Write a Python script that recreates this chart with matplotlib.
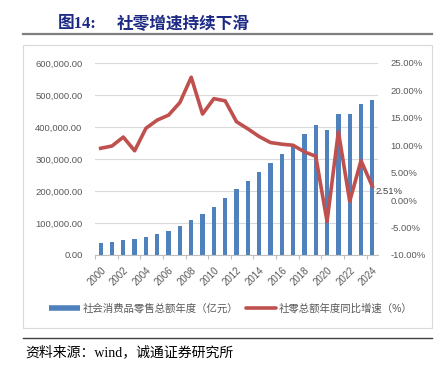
import numpy as np
import matplotlib
matplotlib.use('Agg')
import matplotlib.pyplot as plt
from matplotlib.lines import Line2D
from matplotlib.patches import Rectangle
from matplotlib.ticker import FuncFormatter

plt.rcParams['font.family'] = ['Liberation Sans', 'Noto Sans CJK SC', 'DejaVu Sans']

years = list(range(2000, 2025))
retail_sales = [38500, 41600, 46900, 51000, 57300, 65600, 76000, 90600, 110400, 127000,
                151000, 178100, 205200, 231200, 258300, 286400, 315600, 346800, 377000,
                406000, 391000, 440800, 439700, 471000, 484000]
yoy_growth = [9.45, 9.87, 11.5, 9.0, 13.1, 14.6, 15.5, 17.8, 22.4, 15.7,
              18.5, 18.1, 14.3, 13.0, 11.6, 10.5, 10.2, 10.0, 8.8, 8.0,
              -3.9, 12.5, -0.2, 7.2, 2.51]
bar_label = '社会消费品零售总额年度（亿元）'
line_label = '社零总额年度同比增速（%）'
title_no = '图14:'
title_txt = '社零增速持续下滑'
source = '资料来源：wind，诚通证券研究所'

BLUE, RED, GRAY = '#4F81BD', '#C0504D', '#595959'

fig = plt.figure(figsize=(4.44, 3.73), dpi=100)
W, H = 444, 373

# frame, rules and header text
fig.add_artist(Rectangle((23 / W, 1 - 328 / H), 409 / W, 283 / H, transform=fig.transFigure,
                         fill=False, ec='#d9d9d9', lw=0.8))
fig.add_artist(Line2D([23 / W, 432 / W], [1 - 34 / H] * 2, transform=fig.transFigure, color='#7f7f7f', lw=1.6))
fig.add_artist(Line2D([23 / W, 432 / W], [1 - 338 / H] * 2, transform=fig.transFigure, color='#404040', lw=1.0))
fig.text(58 / W, 1 - 24 / H, title_no, fontsize=12, fontweight='bold', color='#1c2a84',
         va='center', family=['Liberation Serif', 'Noto Sans CJK SC'])
fig.text(117 / W, 1 - 24 / H, title_txt, fontsize=12, fontweight='bold', color='#1c2a84',
         va='center', family=['Noto Sans CJK SC'])
fig.text(25 / W, 1 - 352 / H, source, fontsize=10, color='black', va='center',
         family=['Liberation Serif', 'Noto Sans CJK SC'])

ax = fig.add_axes([95 / W, 1 - 255 / H, 283 / W, 192 / H])
x = np.arange(len(years))
ax.bar(x, retail_sales, width=0.38, color=BLUE, zorder=2)
ax.set_xlim(-0.5, len(years) - 0.5)
ax.set_ylim(0, 600000)
ax.set_yticks(np.arange(0, 600001, 100000))
ax.yaxis.set_major_formatter(FuncFormatter(lambda v, p: f'{v:,.2f}'))
ax.grid(axis='y', color='#d9d9d9', lw=0.8)
ax.set_axisbelow(True)
for s in ['top', 'left', 'right']:
    ax.spines[s].set_visible(False)
ax.spines['bottom'].set_color('#bfbfbf')
ax.tick_params(axis='y', length=0, pad=9, labelsize=6.8, labelcolor=GRAY)

# tick marks at category boundaries every two years, labels at category centres
ax.set_xticks(np.arange(-0.5, len(years), 2))
ax.set_xticklabels([])
ax.tick_params(axis='x', which='major', length=3, color='#bfbfbf')
ax.set_xticks(x[::2], [str(y) for y in years[::2]], minor=True)
ax.tick_params(axis='x', which='minor', length=0, pad=7, labelsize=7, labelcolor=GRAY)
for lab in ax.get_xticklabels(minor=True):
    lab.set_rotation(45)
    lab.set_ha('right')
    lab.set_va('top')
    lab.set_rotation_mode('anchor')

ax2 = ax.twinx()
ax2.plot(x, yoy_growth, color=RED, lw=2.6, solid_joinstyle='round', zorder=3)
ax2.set_ylim(-10, 25)
ax2.set_yticks(np.arange(-10, 26, 5))
ax2.yaxis.set_major_formatter(FuncFormatter(lambda v, p: f'{v:.2f}%'))
for s in ['top', 'left', 'right', 'bottom']:
    ax2.spines[s].set_visible(False)
ax2.tick_params(axis='y', length=0, pad=9, labelsize=6.8, labelcolor=GRAY)
ax2.annotate(f'{yoy_growth[-1]:.2f}%', (x[-1], yoy_growth[-1]), xytext=(2, -4),
             textcoords='offset points', fontsize=6.8, color='#404040', ha='left', va='center')

handles = [Line2D([], [], color=BLUE, lw=4, solid_capstyle='butt'),
           Line2D([], [], color=RED, lw=2.6, solid_capstyle='round')]
fig.legend(handles, [bar_label, line_label], loc='center', bbox_to_anchor=(231 / W, 1 - 308 / H),
           ncol=2, frameon=False, fontsize=7.5, labelcolor=GRAY, handlelength=2.9,
           handletextpad=0.3, columnspacing=0.7)

fig.savefig('out.png', dpi=100)
